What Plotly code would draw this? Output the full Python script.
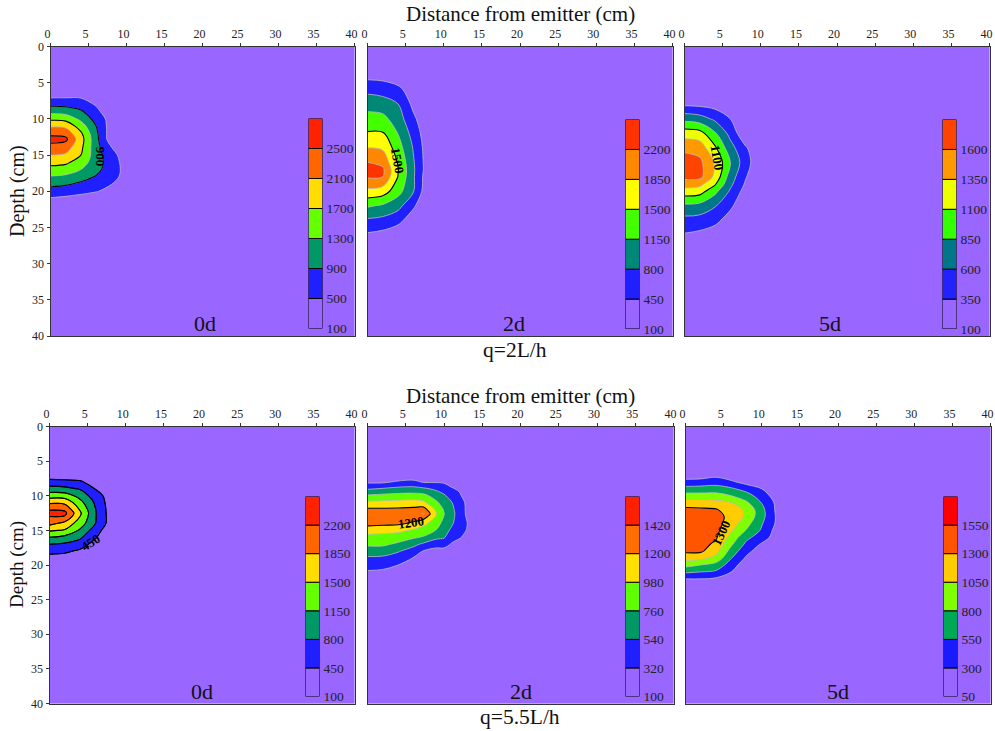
import plotly.graph_objects as go

W, H = 995, 731
FONT = "Liberation Serif"
PURPLE = "#9966FF"

# ---------- q=2L/h, 0d ----------
p1_x = [0, 2, 4, 6, 8, 10, 12, 40]
p1_y = [0, 4, 6, 7, 8, 9, 10, 11, 12, 12.8, 14, 15, 16, 17, 18, 19, 20, 21, 22, 24, 40]
p1_cols = [
    [100,100,150,470,800,1180,1610,2060,2380,2650,2330,2100,1830,1560,1270,1010,740,470,200,100,100],
    [100,100,150,470,790,1130,1560,2010,2360,2580,2280,2050,1780,1500,1220,950,690,420,150,100,100],
    [100,100,130,470,700,960,1200,1500,1760,1870,1790,1700,1500,1300,1060,830,600,370,130,100,100],
    [100,100,100,300,460,610,760,900,980,1020,1040,1070,1080,1020,870,700,520,300,120,100,100],
    [100,100,100,100,120,220,330,310,290,280,520,660,700,690,620,510,400,180,100,100,100],
    [100,100,100,100,100,100,100,100,100,100,150,260,330,370,380,250,130,100,100,100,100],
    [100] * 21,
    [100] * 21,
]
p1_levels = [100, 500, 900, 1300, 1700, 2100, 2500]
p1_colors = [PURPLE, "#1F1FFF", "#009966", "#66FF00", "#FFDD00", "#FF6600", "#FF2200"]

# ---------- q=2L/h, 2d ----------
p2_x = [0, 2, 4, 6, 8, 10, 40]
p2_y = [0, 2, 4, 6, 8, 10, 12, 14, 16, 17, 18, 20, 22, 24, 26, 28, 40]
p2_cols = [
    [100,100,340,710,1020,1280,1530,1850,2200,2380,2240,1760,1200,750,400,100,100],
    [100,100,320,660,970,1250,1530,1800,2100,2260,2200,1680,1100,700,340,100,100],
    [100,100,200,560,810,970,1140,1310,1470,1520,1490,1280,920,560,220,100,100],
    [100,100,100,230,370,520,670,780,840,860,850,830,510,250,100,100,100],
    [100,100,100,100,100,170,200,230,240,240,200,150,100,100,100,100,100],
    [100] * 17,
    [100] * 17,
]
p2_levels = [100, 450, 800, 1150, 1500, 1850, 2200]
p2_colors = [PURPLE, "#2020FF", "#008877", "#44FF00", "#FFFF00", "#FF8800", "#FF3300"]

# ---------- q=2L/h, 5d ----------
p3_x = [0, 2, 4, 6, 8, 10, 12, 40]
p3_y = [0, 4, 6, 8, 10, 12, 14, 16, 18, 19, 20, 22, 24, 26, 28, 40]
p3_cols = [
    [100,100,100,310,770,1240,1530,1740,1680,1470,1250,800,520,330,100,100],
    [100,100,100,290,710,1200,1490,1660,1670,1430,1210,770,500,290,100,100],
    [100,100,100,250,550,880,1140,1320,1290,1130,920,620,430,200,100,100],
    [100,100,100,120,350,520,700,870,730,660,570,410,220,100,100,100],
    [100,100,100,100,100,150,380,440,370,320,250,120,100,100,100,100],
    [100,100,100,100,100,100,130,180,120,100,100,100,100,100,100,100],
    [100] * 16,
    [100] * 16,
]
p3_levels = [100, 350, 600, 850, 1100, 1350, 1600]
p3_colors = [PURPLE, "#2222FF", "#007788", "#33FF00", "#EEFF00", "#FF9900", "#FF4400"]

# ---------- q=5.5L/h, 0d ----------
p4_x = [0, 2, 4, 6, 8, 10, 40]
p4_y = [0, 4, 6, 7, 8, 9, 10, 11, 12, 12.5, 13, 14, 15, 16, 17, 18, 19, 20, 40]
p4_cols = [
    [100,100,100,260,560,950,1330,1800,2170,2350,2200,1950,1540,1150,800,570,300,100,100],
    [100,100,100,220,550,900,1330,1770,2130,2290,2170,1740,1470,1050,750,520,280,100,100],
    [100,100,100,220,500,770,1030,1270,1470,1560,1500,1330,1100,860,640,380,150,100,100],
    [100,100,100,100,280,440,620,750,820,830,830,810,620,490,300,120,100,100,100],
    [100,100,100,100,100,100,280,280,290,300,310,300,200,120,100,100,100,100,100],
    [100] * 19,
    [100] * 19,
]
p4_levels = [100, 450, 800, 1150, 1500, 1850, 2200]
p4_colors = [PURPLE, "#2020FF", "#009966", "#66FF00", "#FFDD00", "#FF6600", "#FF2200"]

# ---------- q=5.5L/h, 2d ----------
p5_x = [0, 2, 4, 6, 7.3, 9, 10, 11, 12, 13, 14, 40]
p5_y = [0, 4, 6, 7, 8, 9, 10, 11, 12, 12.6, 13, 14, 15, 16, 17, 18, 19, 20, 21, 22, 40]
p5_cols = [
    [100,100,100,150,280,520,790,1030,1240,1320,1330,1260,1090,900,800,650,510,400,300,150,100],
    [100,100,100,150,280,560,820,1040,1240,1310,1300,1250,1050,900,800,640,500,390,280,120,100],
    [100,100,100,130,350,600,840,1060,1240,1300,1290,1240,1030,870,720,560,430,320,170,100,100],
    [100,100,100,140,380,610,850,1070,1260,1320,1320,1160,950,790,600,440,310,170,100,100,100],
    [100,100,100,100,300,580,830,1030,1300,1440,1320,1040,880,740,500,310,170,100,100,100,100],
    [100,100,100,100,300,500,660,800,940,985,960,850,750,590,410,240,120,100,100,100,100],
    [100,100,100,100,290,440,570,660,740,770,750,690,630,560,410,240,120,100,100,100,100],
    [100,100,100,100,210,350,450,550,600,620,610,570,500,400,300,130,100,100,100,100,100],
    [100,100,100,100,100,280,370,420,420,430,430,430,400,350,200,100,100,100,100,100,100],
    [100,100,100,100,100,100,180,280,290,290,300,330,310,230,110,100,100,100,100,100,100],
    [100] * 21,
    [100] * 21,
]
p5_levels = [100, 320, 540, 760, 980, 1200, 1420]
p5_colors = [PURPLE, "#2020FF", "#009966", "#5FFF00", "#FFE000", "#FF6E00", "#FF2000"]

# ---------- q=5.5L/h, 5d ----------
p6_x = [0, 2, 4, 6, 8, 10, 11, 12, 14, 40]
p6_y = [0, 4, 6, 7, 8, 9, 10, 11, 12, 13, 14, 15, 16, 17, 18, 19, 20, 21, 22, 23, 40]
p6_cols = [
    [100,100,100,170,380,640,900,1180,1350,1400,1450,1480,1450,1400,1340,1160,890,590,300,100,100],
    [100,100,100,170,400,650,900,1170,1340,1400,1440,1470,1440,1400,1340,1120,800,550,300,100,100],
    [100,100,100,230,440,660,900,1130,1320,1380,1390,1370,1330,1240,1130,980,700,510,260,100,100],
    [100,100,100,150,340,590,800,1050,1170,1230,1180,1080,960,840,700,560,430,300,130,100,100],
    [100,100,100,100,210,450,660,840,1010,1000,890,780,610,490,370,260,130,100,100,100,100],
    [100,100,100,100,170,300,420,540,620,630,570,520,430,270,170,100,100,100,100,100,100],
    [100,100,100,100,100,190,300,400,440,450,430,360,300,170,100,100,100,100,100,100,100],
    [100,100,100,100,100,100,170,230,240,260,250,200,160,100,100,100,100,100,100,100,100],
    [100] * 21,
    [100] * 21,
]
p6_levels = [50, 300, 550, 800, 1050, 1300, 1550]
p6_colors = [PURPLE, "#1A1AFF", "#00AA55", "#80FF00", "#FFCC00", "#FF5500", "#FF0000"]

panels = [
    dict(x=p1_x, y=p1_y, cols=p1_cols, levels=p1_levels, colors=p1_colors, black=[900, 1700, 2500], label=(900, 6.6, 15.2, 90),
         box=(50.5, 354.5, 46.5, 336), bar=(308.5, 322.5, 118.5, 328.5), tag="0d", tag_xy=(205, 323), ylab=True, grey="#BBBBBB"),
    dict(x=p2_x, y=p2_y, cols=p2_cols, levels=p2_levels, colors=p2_colors, black=[1500], label=(1500, 3.9, 15.8, 80),
         box=(367.5, 672.5, 46.5, 336), bar=(625.5, 639.5, 119.5, 329), tag="2d", tag_xy=(514, 323), ylab=False, grey="#BBBBBB"),
    dict(x=p3_x, y=p3_y, cols=p3_cols, levels=p3_levels, colors=p3_colors, black=[1100], label=(1100, 4.3, 15.3, 80),
         box=(684.5, 989.5, 46.5, 336), bar=(942.5, 956.5, 119.5, 329), tag="5d", tag_xy=(830, 323), ylab=False, grey="#BBBBBB"),
    dict(x=p4_x, y=p4_y, cols=p4_cols, levels=p4_levels, colors=p4_colors, black=[450, 800, 1150, 1500, 1850, 2200], label=(450, 5.4, 16.8, -32),
         box=(49.5, 354.5, 426.5, 703.5), bar=(305.5, 319.5, 496.5, 696.5), tag="0d", tag_xy=(202, 691), ylab=True, grey="#000000"),
    dict(x=p5_x, y=p5_y, cols=p5_cols, levels=p5_levels, colors=p5_colors, black=[1200], label=(1200, 5.7, 13.9, -8),
         box=(367.5, 673.5, 426.5, 703.5), bar=(625.5, 639.5, 496.5, 696.5), tag="2d", tag_xy=(521, 691), ylab=False, grey="#BBBBBB"),
    dict(x=p6_x, y=p6_y, cols=p6_cols, levels=p6_levels, colors=p6_colors, black=[1300], label=(1300, 4.6, 15.4, -65),
         box=(685.5, 990.5, 426.5, 703.5), bar=(943.5, 957.5, 496.5, 696.5), tag="5d", tag_xy=(838, 691), ylab=False, grey="#BBBBBB"),
]

fig = go.Figure()
layout = {}
annotations = []


def note(text, px, py, size, angle=0):
    annotations.append(dict(text=text, x=px / W, y=1 - py / H, xref="paper", yref="paper", showarrow=False,
                            textangle=angle, xanchor="center", yanchor="middle",
                            font=dict(family=FONT, size=size, color="#111111")))


for i, p in enumerate(panels):
    ax_main = i * 2 + 1
    ax_bar = i * 2 + 2
    xa, ya = f"x{ax_main}", f"y{ax_main}"
    xb, yb = f"x{ax_bar}", f"y{ax_bar}"
    lv = p["levels"]
    step = lv[1] - lv[0]
    z = [list(r) for r in zip(*p["cols"])]
    n = len(p["colors"]) - 1
    colorscale = [[k / n, c] for k, c in enumerate(p["colors"])]
    fig.add_trace(go.Contour(
        x=p["x"], y=p["y"], z=z, xaxis=xa, yaxis=ya, showscale=False, autocontour=False, hoverinfo="skip",
        colorscale=colorscale,
        contours=dict(start=lv[1], end=lv[-1], size=step, coloring="fill"),
        line=dict(color=p["grey"], width=0.8, smoothing=1.0),
    ))
    for b in p["black"]:
        fig.add_trace(go.Contour(
            x=p["x"], y=p["y"], z=z, xaxis=xa, yaxis=ya, showscale=False, autocontour=False, hoverinfo="skip",
            contours=dict(start=b, end=b, size=step, coloring="none"),
            line=dict(color="#000000", width=1.1, smoothing=1.0),
        ))
    # legend column
    fig.add_trace(go.Bar(
        x=[0] * len(lv), y=[step] * len(lv), base=lv, width=1, xaxis=xb, yaxis=yb, marker=dict(
            color=p["colors"], line=dict(color="#000000", width=1)), showlegend=False, hoverinfo="skip",
    ))
    x0, x1, y0, y1 = p["box"]
    layout[f"xaxis{ax_main}"] = dict(
        domain=[x0 / W, x1 / W], anchor=ya, side="top", range=[0, 40], tick0=0, dtick=5, ticks="outside", ticklen=3,
        tickwidth=1, tickcolor="#333333", showgrid=False, zeroline=False, showline=True, linecolor="#333333",
        linewidth=1, mirror=True, tickfont=dict(family=FONT, size=12, color="#222222"), automargin=False,
        ticklabelshift=-3,
    )
    layout[f"yaxis{ax_main}"] = dict(
        domain=[1 - y1 / H, 1 - y0 / H], anchor=xa, range=[40, 0], tick0=0, dtick=5,
        ticks="outside" if p["ylab"] else "", ticklen=3, tickwidth=1, tickcolor="#333333",
        showticklabels=p["ylab"], showgrid=False, zeroline=False, showline=True, linecolor="#333333", linewidth=1,
        mirror=True, tickfont=dict(family=FONT, size=12, color="#222222"), automargin=False,
    )
    bx0, bx1, by0, by1 = p["bar"]
    layout[f"xaxis{ax_bar}"] = dict(
        domain=[bx0 / W, bx1 / W], anchor=yb, range=[-0.5, 0.5], showticklabels=False, ticks="", showgrid=False,
        zeroline=False, showline=False, automargin=False,
    )
    layout[f"yaxis{ax_bar}"] = dict(
        domain=[1 - by1 / H, 1 - by0 / H], anchor=xb, side="right", range=[lv[0], lv[0] + step * len(lv)],
        tickmode="array", tickvals=lv, ticktext=[str(v) for v in lv], ticks="", ticklabelstandoff=3, showgrid=False,
        zeroline=False, showline=False, tickfont=dict(family=FONT, size=13.5, color="#222222"), automargin=False,
    )
    note(p["tag"], p["tag_xy"][0], p["tag_xy"][1], 22)
    lab, lx, ly, la = p["label"]
    annotations.append(dict(text=f"<b>{lab}</b>", x=lx, y=ly, xref=xa, yref=ya, showarrow=False, textangle=la,
                            xanchor="center", yanchor="middle", font=dict(family=FONT, size=13, color="#000000")))

note("Distance from emitter (cm)", 520, 14, 21)
note("q=2L/h", 515, 350, 21.5)
note("Distance from emitter (cm)", 520, 396, 21)
note("q=5.5L/h", 520, 717, 21.5)
note("Depth (cm)", 18, 191, 20, -90)
note("Depth (cm)", 17, 565, 19, -90)

fig.update_layout(
    width=W, height=H, margin=dict(l=0, r=0, t=0, b=0, pad=0), paper_bgcolor="white", plot_bgcolor=PURPLE,
    showlegend=False, barmode="overlay", annotations=annotations, font=dict(family=FONT), **layout,
)
fig.write_html("out.html", config=dict(displayModeBar=False), post_script="document.body.style.margin='0';")
